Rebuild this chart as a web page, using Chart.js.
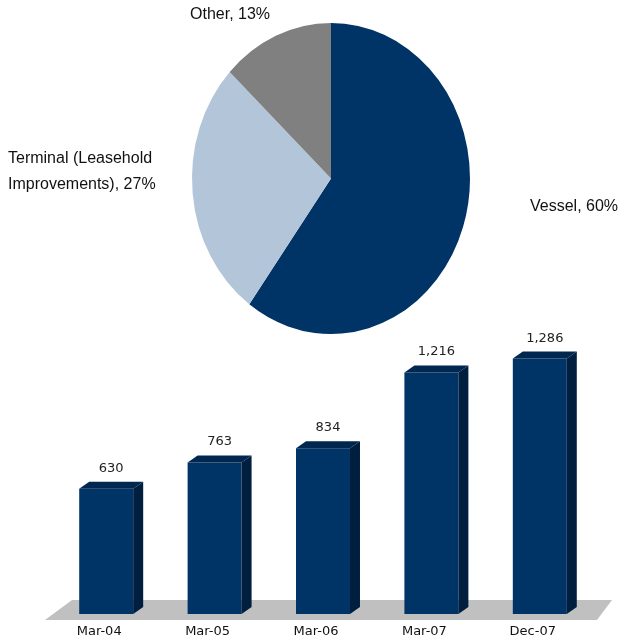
<!DOCTYPE html>
<html lang="en">
<head>
  <meta charset="UTF-8">
  <title>Asset mix and fleet value</title>
  <script src="https://cdn.jsdelivr.net/npm/chart.js"></script>
  <style>
    body { margin: 0; background: #fff; }
    #wrap { position: relative; width: 629px; height: 638px; }
    canvas { position: absolute; left: 0; }
    #pie { top: 0; }
    #bars { top: 320px; }
  </style>
</head>
<body>
  <div id="wrap">
    <canvas id="pie" width="629" height="340"></canvas>
    <canvas id="bars" width="629" height="318"></canvas>
  </div>
  <script>
    // pie data
    const pieLabels = ["Vessel", "Terminal (Leasehold Improvements)", "Other"];
    const pieLines = [["Vessel, 60%"], ["Terminal (Leasehold", "Improvements), 27%"], ["Other, 13%"]];
    const pieValues = [60, 27, 13];
    const pieColors = ["#003366", "#b3c6d9", "#808080"];

    // bar data
    const periods = ["Mar-04", "Mar-05", "Mar-06", "Mar-07", "Dec-07"];
    const amounts = [630, 763, 834, 1216, 1286];

    // pie is drawn a bit taller than wide, like the original
    const stretch = {
      id: "stretch",
      beforeDatasetsDraw(chart) {
        const a = chart.getDatasetMeta(0).data[0];
        const ctx = chart.ctx;
        ctx.save();
        ctx.translate(a.x, a.y);
        ctx.scale(1, 1.119);
        ctx.translate(-a.x, -a.y);
      },
      afterDatasetsDraw(chart) {
        chart.ctx.restore();
      }
    };

    // where each slice label sits, relative to the pie centre
    const labelSpots = [[199, 28], [-323, -20], [-141, -164]];
    const pieText = {
      id: "pieText",
      afterDraw(chart) {
        const a = chart.getDatasetMeta(0).data[0];
        const ctx = chart.ctx;
        ctx.save();
        ctx.font = "16px 'Liberation Sans Narrow', 'Arial Narrow', Arial, sans-serif";
        ctx.fillStyle = "#111";
        ctx.textAlign = "left";
        ctx.textBaseline = "middle";
        pieLines.forEach((lines, i) => {
          lines.forEach((t, j) => {
            ctx.fillText(t, a.x + labelSpots[i][0], a.y + labelSpots[i][1] + j * 26);
          });
        });
        ctx.restore();
      }
    };

    new Chart(document.getElementById("pie"), {
      type: "pie",
      data: {
        labels: pieLabels,
        datasets: [{ data: pieValues, backgroundColor: pieColors, borderWidth: 0 }]
      },
      options: {
        responsive: false,
        animation: false,
        radius: 139,
        layout: { padding: { left: 33, top: 17, right: 0, bottom: 0 } },
        plugins: { legend: { display: false }, tooltip: { enabled: false } }
      },
      plugins: [stretch, pieText]
    });

    // 3d look: floor, top and side faces, value labels
    const depth = { dx: 10, dy: 7 };
    const box3d = {
      id: "box3d",
      beforeDatasetsDraw(chart) {
        const { ctx, chartArea } = chart;
        const b = chart.scales.y.getPixelForValue(0);
        ctx.save();
        ctx.fillStyle = "#c0c0c0";
        ctx.beginPath();
        ctx.moveTo(chartArea.left - 7, b + 6);
        ctx.lineTo(chartArea.right + 3, b + 6);
        ctx.lineTo(chartArea.right + 18, b - 14);
        ctx.lineTo(chartArea.left + 20, b - 14);
        ctx.closePath();
        ctx.fill();
        ctx.restore();
      },
      afterDatasetsDraw(chart) {
        const ctx = chart.ctx;
        const meta = chart.getDatasetMeta(0);
        ctx.save();
        meta.data.forEach((bar, i) => {
          const p = bar.getProps(["x", "y", "base", "width"], true);
          const l = p.x - p.width / 2, r = p.x + p.width / 2;
          // top
          ctx.fillStyle = "#00274f";
          ctx.beginPath();
          ctx.moveTo(l, p.y);
          ctx.lineTo(l + depth.dx, p.y - depth.dy);
          ctx.lineTo(r + depth.dx, p.y - depth.dy);
          ctx.lineTo(r, p.y);
          ctx.closePath();
          ctx.fill();
          // side
          ctx.fillStyle = "#001f3f";
          ctx.beginPath();
          ctx.moveTo(r, p.y);
          ctx.lineTo(r + depth.dx, p.y - depth.dy);
          ctx.lineTo(r + depth.dx, p.base - depth.dy);
          ctx.lineTo(r, p.base);
          ctx.closePath();
          ctx.fill();
          // value
          ctx.fillStyle = "#222";
          ctx.font = "13px 'DejaVu Sans', Verdana, sans-serif";
          ctx.textAlign = "center";
          ctx.textBaseline = "alphabetic";
          ctx.fillText(amounts[i].toLocaleString("en-US"), p.x + depth.dx / 2, p.y - 17);
        });
        ctx.restore();
      }
    };

    new Chart(document.getElementById("bars"), {
      type: "bar",
      data: {
        labels: periods,
        datasets: [{
          data: amounts,
          backgroundColor: "#003366",
          borderWidth: 0,
          categoryPercentage: 1,
          barPercentage: 0.498
        }]
      },
      options: {
        responsive: false,
        animation: false,
        layout: { padding: { left: 52, right: 35, top: 0, bottom: 0 } },
        scales: {
          x: {
            grid: { display: false },
            border: { display: false },
            afterFit(scale) { scale.height = 24; },
            ticks: {
              color: "#111",
              font: { family: "'DejaVu Sans', Verdana, sans-serif", size: 13 },
              padding: 2,
              labelOffset: -7
            }
          },
          y: { display: false, min: 0, max: 1480 }
        },
        plugins: { legend: { display: false }, tooltip: { enabled: false } }
      },
      plugins: [box3d]
    });
  </script>
</body>
</html>
